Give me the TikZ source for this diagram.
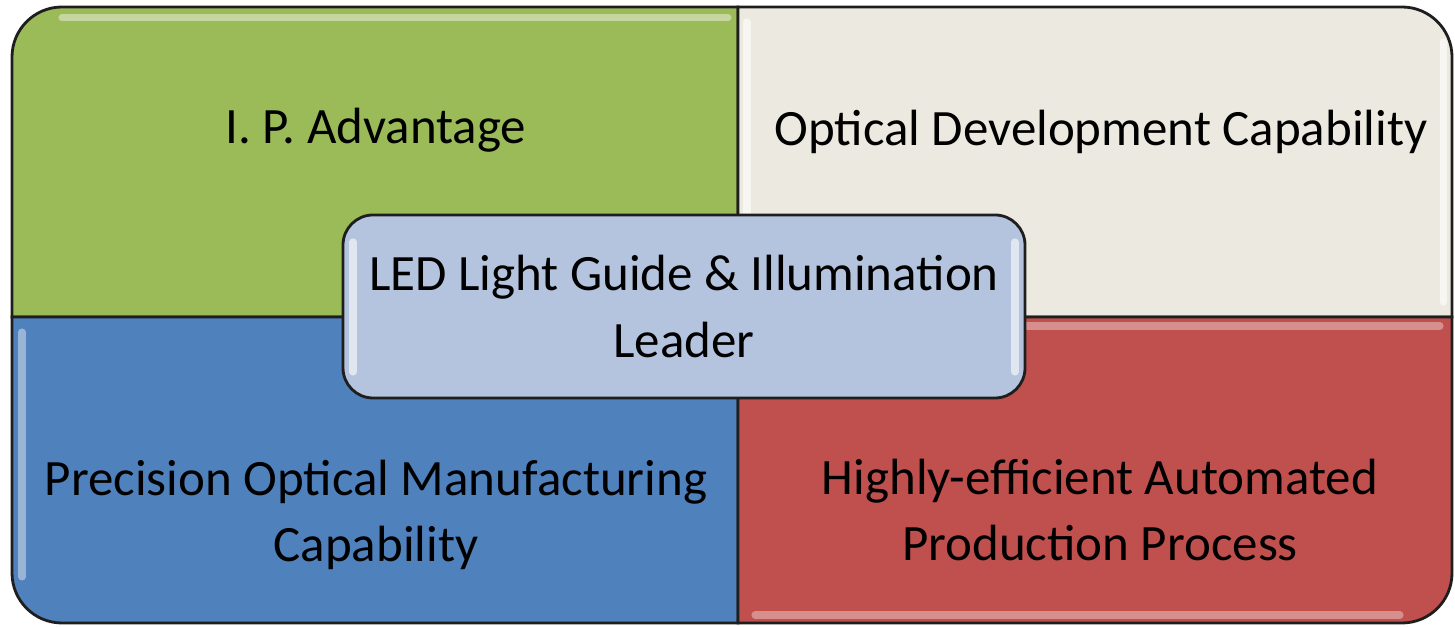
\documentclass[tikz,border=0pt]{standalone}
\usepackage{fontspec}
\setmainfont{Carlito}
\usepackage{xcolor}
\usepackage{tikz}
\definecolor{ipgreen}{RGB}{155, 187, 89}
\definecolor{optbeige}{RGB}{236, 234, 224}
\definecolor{precblue}{RGB}{79, 129, 189}
\definecolor{autored}{RGB}{192, 80, 77}
\definecolor{leadblue}{RGB}{181, 196, 222}
\definecolor{edgegray}{RGB}{30, 30, 30}

\begin{document}
\begin{tikzpicture}[
    quadtext/.style={align=center, font=\fontsize{14.5}{18.8}\selectfont},
    shine/.style={line width=2pt, line cap=round, opacity=0.6}
]
    \useasboundingbox (0,0) rectangle (14.55,6.27);

    % Top left - green
    \filldraw[fill=ipgreen, draw=edgegray, line width=0.8pt] (7.38,3.10) -- (0.12,3.10) [rounded corners=0.5cm] -- (0.12,6.20) [sharp corners] -- (7.38,6.20) -- cycle;
    \draw[shine, ipgreen!30!white] (0.62,6.09) -- (7.28,6.09);

    % Top right - beige
    \filldraw[fill=optbeige, draw=edgegray, line width=0.8pt] (7.38,6.20) [rounded corners=0.5cm] -- (14.52,6.20) [sharp corners] -- (14.52,3.10) -- (7.38,3.10) -- cycle;
    \draw[shine, white] (7.47,6.05) -- (7.47,3.22);
    \draw[shine, white] (14.43,5.85) -- (14.43,3.25);

    % Bottom left - blue
    \filldraw[fill=precblue, draw=edgegray, line width=0.8pt] (7.38,3.10) -- (0.12,3.10) [rounded corners=0.5cm] -- (0.12,0.04) [sharp corners] -- (7.38,0.04) -- cycle;
    \draw[shine, precblue!30!white] (0.22,2.95) -- (0.22,0.50);

    % Bottom right - red
    \filldraw[fill=autored, draw=edgegray, line width=0.8pt] (7.38,0.04) [rounded corners=0.5cm] -- (14.52,0.04) [sharp corners] -- (14.52,3.10) -- (7.38,3.10) -- cycle;
    \draw[shine, autored!40!white] (7.50,3.01) -- (14.40,3.01);
    \draw[shine, autored!40!white] (7.55,0.12) -- (14.00,0.12);

    % Quadrant labels
    \node[quadtext] (ipadv) at (3.76,4.97) {I. P. Advantage};
    \node[quadtext] (optdev) at (11.01,4.95) {Optical Development Capability};
    \node[quadtext] (precman) at (3.76,1.12) {Precision Optical Manufacturing\\Capability};
    \node[quadtext] (autoprod) at (11.00,1.17) {Highly-efficient Automated\\Production Process};

    % Center box
    \node[quadtext, draw=edgegray, line width=0.8pt, fill=leadblue, rounded corners=0.3cm,
          minimum width=6.82cm, minimum height=1.83cm] (leader) at (6.84,3.205) {LED Light Guide \& Illumination\\Leader};
    \draw[shine, white] (3.53,3.85) -- (3.53,2.55);
    \draw[shine, white] (10.15,3.85) -- (10.15,2.55);
\end{tikzpicture}
\end{document}
